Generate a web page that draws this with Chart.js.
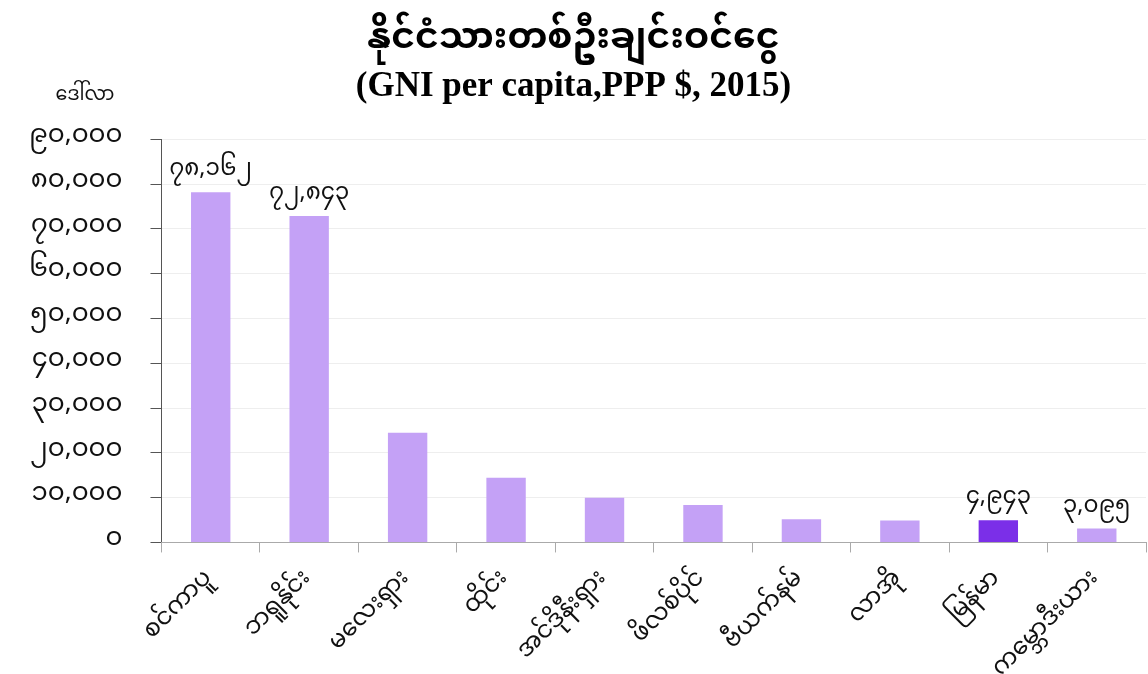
<!DOCTYPE html>
<html>
<head>
<meta charset="utf-8">
<script src="https://cdn.jsdelivr.net/npm/chart.js@4.4.0/dist/chart.umd.min.js"></script>
<style>
  html, body { margin: 0; padding: 0; background: #fff; }
  #wrap { width: 1148px; height: 674px; position: relative; }
</style>
</head>
<body>
<div id="wrap"><canvas id="chart"></canvas></div>
<script>
// data
var countries = ['စင်ကာပူ', 'ဘရူနိုင်း', 'မလေးရှား', 'ထိုင်း', 'အင်ဒိုနီးရှား', 'ဖိလစ်ပိုင်', 'ဗီယက်နမ်', 'လာအို', 'မြန်မာ', 'ကမ္ဘောဒီးယား'];
var gniValues = [78162, 72843, 24500, 14450, 9950, 8330, 5200, 4920, 4943, 3095];
var showValue = [true, true, false, false, false, false, false, false, true, true];
var highlight = 'မြန်မာ';
var yTicks = [0, 10000, 20000, 30000, 40000, 50000, 60000, 70000, 80000, 90000];

var titleText = 'နိုင်ငံသားတစ်ဦးချင်းဝင်ငွေ';
var subtitleText = '(GNI per capita,PPP $, 2015)';
var unitText = 'ဒေါ်လာ';

var myFont = '"Noto Sans Myanmar", "Padauk", "Myanmar Text", "Noto Sans", sans-serif';
var burmeseDigits = ['၀','၁','၂','၃','၄','၅','၆','၇','၈','၉'];

function toBurmese(n) {
  var s = n.toLocaleString('en-US');
  return s.replace(/[0-9]/g, function(d) { return burmeseDigits[parseInt(d)]; });
}

var barColors = [];
for (var i = 0; i < countries.length; i++) {
  barColors.push(countries[i] == highlight ? '#7b2fe8' : '#c4a1f6');
}

var extras = {
  id: 'extras',
  afterDatasetsDraw: function(chart) {
    var ctx = chart.ctx;
    var meta = chart.getDatasetMeta(0);
    ctx.save();
    ctx.fillStyle = '#111';
    ctx.font = '23px ' + myFont;
    ctx.textAlign = 'center';
    ctx.textBaseline = 'bottom';
    for (var i = 0; i < meta.data.length; i++) {
      if (!showValue[i]) continue;
      var bar = meta.data[i];
      ctx.fillText(toBurmese(gniValues[i]), bar.x, bar.y - 8);
    }
    // unit label above the y axis
    ctx.font = '19px ' + myFont;
    ctx.textAlign = 'center';
    ctx.textBaseline = 'middle';
    ctx.fillText(unitText, 85, 98);
    ctx.restore();
  }
};

new Chart(document.getElementById('chart'), {
  type: 'bar',
  data: {
    labels: countries,
    datasets: [{
      data: gniValues,
      backgroundColor: barColors,
      borderWidth: 0,
      barPercentage: 0.5,
      categoryPercentage: 0.8
    }]
  },
  options: {
    responsive: true,
    maintainAspectRatio: false,
    animation: false,
    layout: { padding: { left: 1, right: 2, top: 0, bottom: -25 } },
    plugins: {
      legend: { display: false },
      tooltip: { enabled: false },
      title: {
        display: true,
        text: titleText,
        color: '#000',
        font: { family: myFont, size: 36, weight: 'bold' },
        padding: { top: 23, bottom: 0 }
      },
      subtitle: {
        display: true,
        text: subtitleText,
        color: '#000',
        font: { family: '"Liberation Serif", "Times New Roman", serif', size: 35, weight: 'bold' },
        padding: { top: 0, bottom: 31 }
      }
    },
    scales: {
      y: {
        min: 0,
        max: 90000,
        afterBuildTicks: function(axis) {
          axis.ticks = yTicks.map(function(v) { return { value: v }; });
        },
        border: { color: '#555', width: 1 },
        grid: { color: '#eee', tickColor: '#555', tickLength: 11 },
        ticks: {
          color: '#111',
          padding: 28,
          font: { family: myFont, size: 26 },
          callback: function(v) { return toBurmese(v); }
        }
      },
      x: {
        border: { color: '#aaa', width: 1 },
        grid: { display: true, drawOnChartArea: false, offset: true, tickColor: '#aaa', tickLength: 10 },
        ticks: {
          color: '#111',
          minRotation: 45,
          maxRotation: 45,
          padding: 14,
          font: { family: myFont, size: 24 }
        }
      }
    }
  },
  plugins: [extras]
});
</script>
</body>
</html>
